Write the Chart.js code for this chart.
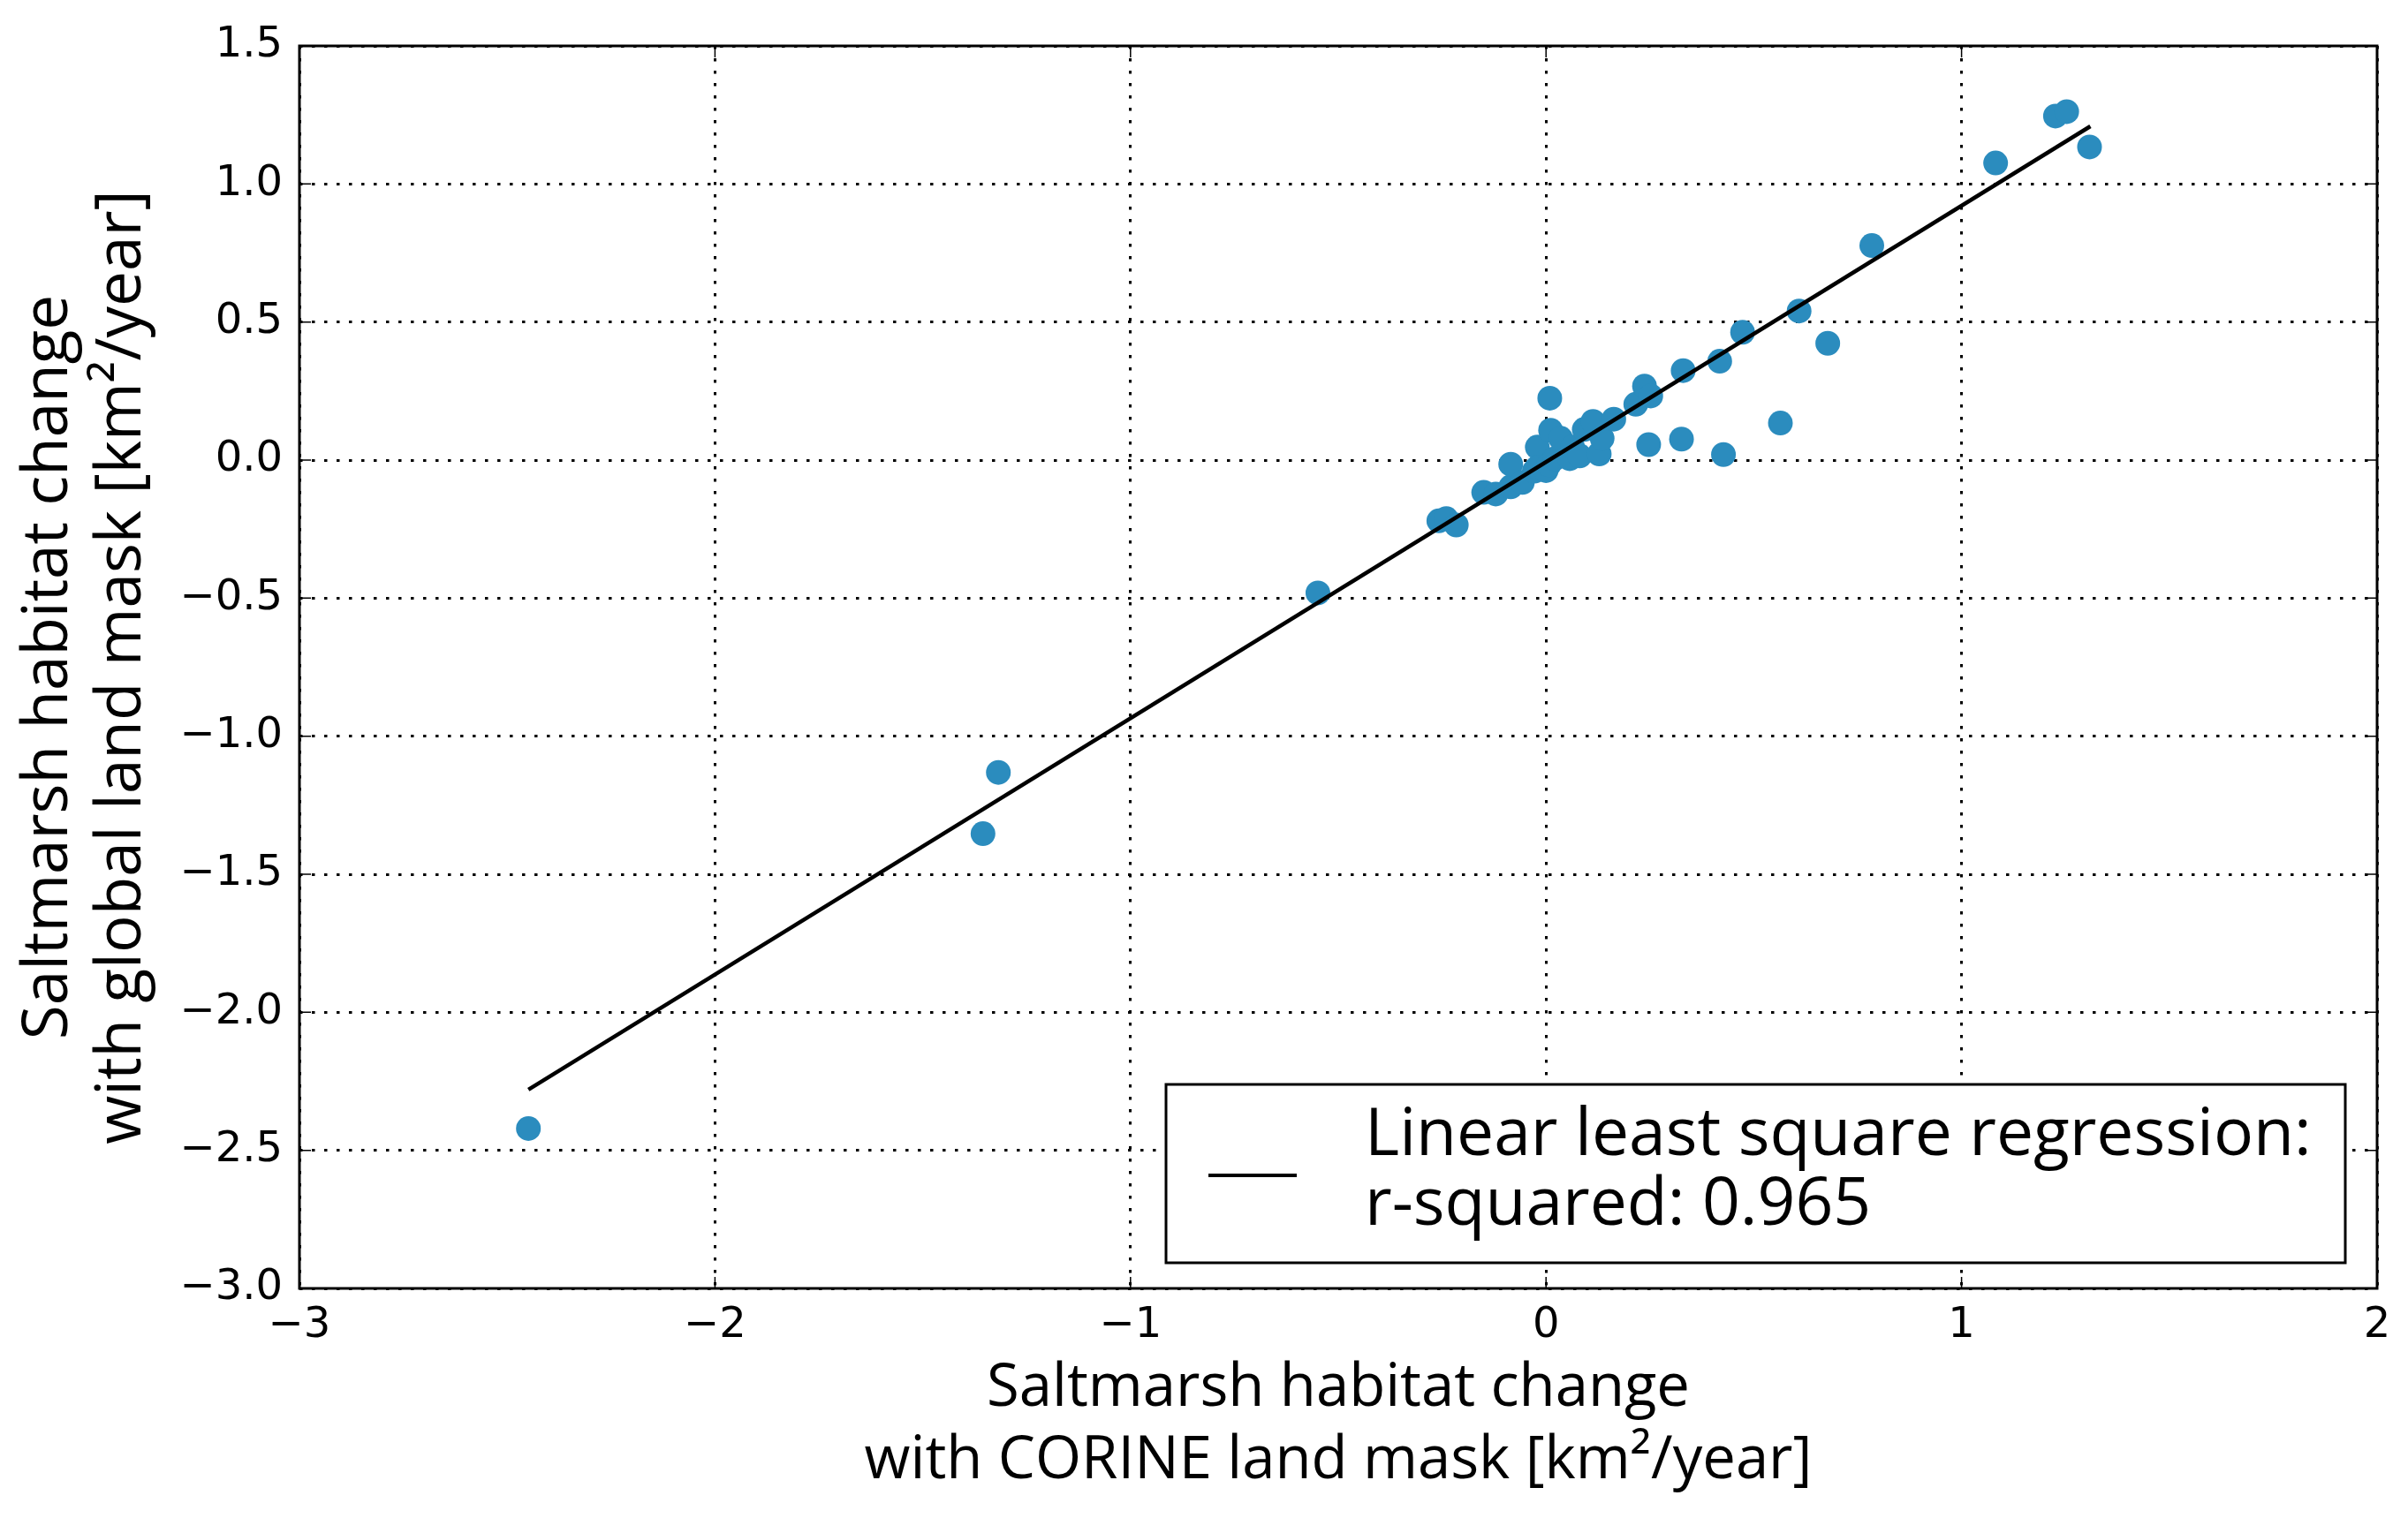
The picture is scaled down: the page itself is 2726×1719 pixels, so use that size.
<!DOCTYPE html>
<html>
<head>
<meta charset="utf-8">
<script src="https://cdn.jsdelivr.net/npm/chart.js@4/dist/chart.umd.min.js"></script>
<style>
  html, body { margin: 0; padding: 0; background: #fff; }
  canvas { display: block; }
</style>
</head>
<body>
<canvas id="chart" width="2726" height="1719" style="width:2726px;height:1719px"></canvas>
<script>
// saltmarsh change, CORINE mask (x) vs global mask (y), km2/year
const corineChange = [
  -2.449, -1.355, -1.318, -0.549, -0.258, -0.240, -0.216, -0.150, -0.121, -0.085,
  -0.085, -0.057, -0.028, -0.021, -0.021, 0.000, 0.007, 0.009, 0.011, 0.021,
  0.035, 0.057, 0.064, 0.081, 0.092, 0.113, 0.128, 0.135, 0.163, 0.216,
  0.237, 0.252, 0.247, 0.326, 0.330, 0.418, 0.427, 0.473, 0.564, 0.609,
  0.678, 0.784, 1.082, 1.226, 1.253, 1.308
];
const globalChange = [
  -2.421, -1.353, -1.131, -0.481, -0.220, -0.212, -0.235, -0.117, -0.123, -0.097,
  -0.015, -0.081, -0.040, 0.047, -0.027, -0.038, -0.017, 0.224, 0.108, 0.005,
  0.079, 0.005, 0.047, 0.015, 0.111, 0.140, 0.022, 0.079, 0.148, 0.202,
  0.268, 0.232, 0.056, 0.076, 0.324, 0.358, 0.020, 0.463, 0.134, 0.540,
  0.423, 0.777, 1.076, 1.246, 1.262, 1.134
];

// fitted line end points
const fitX = [-2.449, 1.310];
const fitY = [-2.280, 1.209];

const xTicks = [-3, -2, -1, 0, 1, 2];
const yTicks = [-3.0, -2.5, -2.0, -1.5, -1.0, -0.5, 0.0, 0.5, 1.0, 1.5];

const xTitle = ['Saltmarsh habitat change', 'with CORINE land mask [km\u00B2/year]'];
const yTitle = ['Saltmarsh habitat change', 'with global land mask [km\u00B2/year]'];
const legendLines = ['Linear least square regression:', 'r-squared: 0.965'];

const minus = s => s.replace('-', '\u2212');

// frame + inward tick marks like matplotlib classic
const framePlugin = {
  id: 'frame',
  afterDraw(chart) {
    const ctx = chart.ctx;
    const a = chart.chartArea;
    const xs = chart.scales.x, ys = chart.scales.y;
    ctx.save();
    ctx.strokeStyle = '#000';
    ctx.lineWidth = 1.5;
    xTicks.forEach(v => {
      const px = xs.getPixelForValue(v);
      ctx.beginPath();
      ctx.moveTo(px, a.bottom); ctx.lineTo(px, a.bottom - 13);
      ctx.moveTo(px, a.top); ctx.lineTo(px, a.top + 13);
      ctx.stroke();
    });
    yTicks.forEach(v => {
      const py = ys.getPixelForValue(v);
      ctx.beginPath();
      ctx.moveTo(a.left, py); ctx.lineTo(a.left + 13, py);
      ctx.moveTo(a.right, py); ctx.lineTo(a.right - 13, py);
      ctx.stroke();
    });
    ctx.lineWidth = 3;
    ctx.strokeRect(a.left, a.top, a.right - a.left, a.bottom - a.top);
    ctx.restore();
  }
};

// legend box in lower right of the plot
const legendPlugin = {
  id: 'boxLegend',
  afterDraw(chart) {
    const ctx = chart.ctx;
    const a = chart.chartArea;
    const right = a.right - 36, bottom = a.bottom - 29;
    const left = right - 1335, top = bottom - 202;
    ctx.save();
    ctx.fillStyle = '#fff';
    ctx.fillRect(left, top, right - left, bottom - top);
    ctx.strokeStyle = '#000';
    ctx.lineWidth = 3;
    ctx.strokeRect(left, top, right - left, bottom - top);
    ctx.lineWidth = 4;
    ctx.beginPath();
    ctx.moveTo(left + 48, top + 103);
    ctx.lineTo(left + 148, top + 103);
    ctx.stroke();
    ctx.fillStyle = '#000';
    ctx.font = '75px "Open Sans"';
    ctx.textBaseline = 'alphabetic';
    ctx.fillText(legendLines[0], left + 225, top + 80);
    ctx.fillText(legendLines[1], left + 225, top + 159);
    ctx.restore();
  }
};

new Chart(document.getElementById('chart'), {
  type: 'scatter',
  data: {
    datasets: [
      {
        type: 'line',
        label: legendLines.join(' '),
        data: fitX.map((x, i) => ({ x: x, y: fitY[i] })),
        borderColor: '#000',
        borderWidth: 4.5,
        pointRadius: 0,
        fill: false,
        tension: 0
      },
      {
        label: 'sites',
        data: corineChange.map((x, i) => ({ x: x, y: globalChange[i] })),
        backgroundColor: '#2b8cbe',
        borderWidth: 0,
        pointRadius: 14,
        pointHoverRadius: 14
      }
    ]
  },
  options: {
    responsive: false,
    devicePixelRatio: 1,
    animation: false,
    layout: { padding: { top: 52, right: 35, left: 0, bottom: 0 } },
    plugins: {
      legend: { display: false },
      tooltip: { enabled: false }
    },
    scales: {
      x: {
        type: 'linear',
        min: -3, max: 2,
        afterBuildTicks: s => { s.ticks = xTicks.map(v => ({ value: v })); },
        afterFit: s => { s.height = 260; },
        ticks: {
          color: '#000',
          font: { family: '"DejaVu Sans"', size: 48 },
          padding: 14,
          maxRotation: 0,
          callback: v => minus(String(v))
        },
        grid: { color: '#000', lineWidth: 3, drawTicks: false },
        border: { display: false, dash: [3.5, 10.5] },
        title: {
          display: true,
          text: xTitle,
          color: '#000',
          font: { family: '"Open Sans"', size: 67, lineHeight: 1.22 },
          padding: { top: 0, bottom: 23 }
        }
      },
      y: {
        type: 'linear',
        min: -3, max: 1.5,
        afterBuildTicks: s => { s.ticks = yTicks.map(v => ({ value: v })); },
        afterFit: s => { s.width = 339; },
        ticks: {
          color: '#000',
          font: { family: '"DejaVu Sans"', size: 48 },
          padding: 19,
          callback: v => minus(Number(v).toFixed(1))
        },
        grid: { color: '#000', lineWidth: 3, drawTicks: false },
        border: { display: false, dash: [3.5, 10.5] },
        title: {
          display: true,
          text: yTitle,
          color: '#000',
          font: { family: '"Open Sans"', size: 71, lineHeight: 1.17 },
          padding: { top: 14, bottom: 0 }
        }
      }
    }
  },
  plugins: [framePlugin, legendPlugin]
});
</script>
</body>
</html>
